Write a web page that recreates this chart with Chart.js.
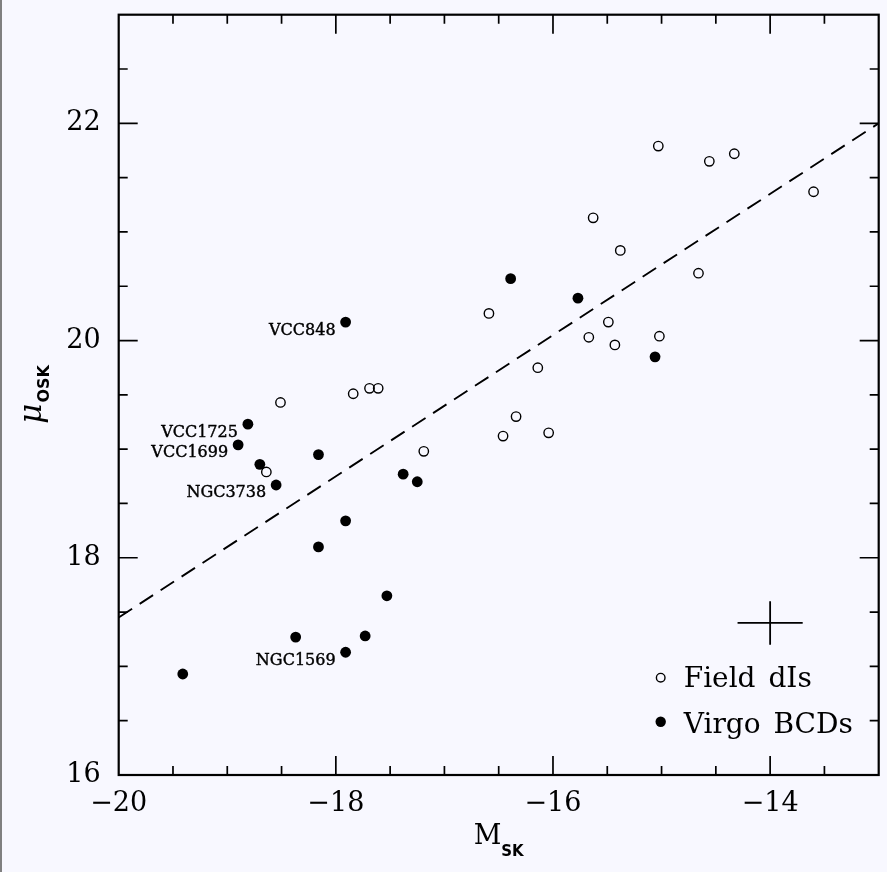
<!DOCTYPE html>
<html>
<head>
<meta charset="utf-8">
<script src="https://cdn.jsdelivr.net/npm/chart.js@4.4.1/dist/chart.umd.min.js"></script>
<style>
html,body{margin:0;padding:0;background:#f8f8ff;}
#c{display:block;}
</style>
</head>
<body>
<canvas id="c" width="887" height="872"></canvas>
<script>
// ---- data ----
const fieldX = [-18.51,-18.64,-17.84,-17.69,-17.61,-17.19,-16.59,-16.46,-16.34,-16.14,-16.04,-15.67,-15.63,-15.49,-15.43,-15.38,-15.03,-15.02,-14.66,-14.56,-14.33,-13.60];
const fieldY = [19.43,18.79,19.51,19.56,19.56,18.98,20.25,19.12,19.30,19.75,19.15,20.03,21.13,20.17,19.96,20.83,21.79,20.04,20.62,21.65,21.72,21.37];
const bcdX = [-17.91,-18.81,-18.90,-18.70,-18.55,-18.16,-17.38,-17.25,-17.91,-18.16,-17.53,-18.37,-17.73,-17.91,-19.41,-16.39,-15.77,-15.06];
const bcdY = [20.17,19.23,19.04,18.86,18.67,18.95,18.77,18.70,18.34,18.10,17.65,17.27,17.28,17.13,16.93,20.57,20.39,19.85];
const labelNames = ['VCC848','VCC1725','VCC1699','NGC3738','NGC1569'];
const labelIndex = [0,1,2,4,13];
const fitX = [-20,-13];
const fitY = [17.45,22.0];
const errCenterX = -14.0, errCenterY = 17.4, errHalfX = 0.3, errHalfY = 0.2;
const xTicks = [-20,-18,-16,-14];
const yTicks = [16,18,20,22];
const seriesNames = ['Field dIs','Virgo BCDs'];

const toPts = (xs, ys) => xs.map((x, i) => ({x, y: ys[i]}));

const serif = '"DejaVu Serif", serif';
const sans = '"DejaVu Sans", sans-serif';

const decor = {
  id: 'decor',
  beforeDraw(chart) {
    const ctx = chart.ctx;
    ctx.save();
    ctx.fillStyle = '#f8f8ff';
    ctx.fillRect(0, 0, chart.width, chart.height);
    ctx.fillStyle = '#808080';
    ctx.fillRect(0, 0, 2, chart.height);
    ctx.restore();
  },
  afterDatasetsDraw(chart) {
    const ctx = chart.ctx;
    const a = chart.chartArea;
    const xs = chart.scales.x, ys = chart.scales.y;
    ctx.save();
    // frame
    ctx.strokeStyle = '#000';
    ctx.lineWidth = 2.2;
    ctx.strokeRect(a.left, a.top, a.right - a.left, a.bottom - a.top);
    // ticks
    ctx.lineWidth = 1.7;
    ctx.beginPath();
    for (let v = xs.min + 0.5; v < xs.max - 0.01; v += 0.5) {
      const p = xs.getPixelForValue(v);
      const L = Math.abs(v % 2) < 1e-6 ? 19 : 9;
      ctx.moveTo(p, a.bottom); ctx.lineTo(p, a.bottom - L);
      ctx.moveTo(p, a.top); ctx.lineTo(p, a.top + L);
    }
    for (let v = ys.min + 0.5; v < ys.max - 0.01; v += 0.5) {
      const p = ys.getPixelForValue(v);
      const L = Math.abs(v % 2) < 1e-6 ? 19 : 9;
      ctx.moveTo(a.left, p); ctx.lineTo(a.left + L, p);
      ctx.moveTo(a.right, p); ctx.lineTo(a.right - L, p);
    }
    ctx.stroke();

    // point labels
    ctx.fillStyle = '#000';
    ctx.strokeStyle = '#000';
    ctx.lineWidth = 0.4;
    ctx.font = '16px ' + serif;
    ctx.textAlign = 'right';
    ctx.textBaseline = 'alphabetic';
    labelNames.forEach((n, i) => {
      const k = labelIndex[i];
      const px = xs.getPixelForValue(bcdX[k]);
      const py = ys.getPixelForValue(bcdY[k]);
      ctx.fillText(n, px - 10, py + 12.5);
      ctx.strokeText(n, px - 10, py + 12.5);
    });

    // legend
    const lx = a.left + 542, ly1 = a.top + 663, ly2 = a.top + 707;
    ctx.lineWidth = 1.4;
    ctx.beginPath(); ctx.arc(lx, ly1, 4.3, 0, Math.PI * 2); ctx.stroke();
    ctx.beginPath(); ctx.arc(lx, ly2, 5.2, 0, Math.PI * 2); ctx.fill();
    ctx.font = '28px ' + serif;
    ctx.textAlign = 'left';
    try { ctx.wordSpacing = '4px'; } catch (e) {}
    ctx.fillText(seriesNames[0], lx + 23, ly1 + 9.5);
    ctx.fillText(seriesNames[1], lx + 23, ly2 + 11);
    try { ctx.wordSpacing = '0px'; } catch (e) {}

    // x title
    const cx = (a.left + a.right) / 2;
    ctx.font = '27px ' + serif;
    const wM = ctx.measureText('M').width;
    ctx.font = 'bold 15px ' + sans;
    const wS = ctx.measureText('SK').width;
    const x0 = cx - (wM + wS) / 2;
    ctx.font = '27px ' + serif;
    ctx.fillText('M', x0, 843.5);
    ctx.font = 'bold 15px ' + sans;
    ctx.fillText('SK', x0 + wM, 856);

    // y title
    ctx.translate(41, (a.top + a.bottom) / 2);
    ctx.rotate(-Math.PI / 2);
    ctx.font = 'italic 31px ' + serif;
    const wm = ctx.measureText('μ').width;
    ctx.font = 'bold 16px ' + sans;
    const wo = ctx.measureText('OSK').width;
    const y0 = -(wm + wo) / 2;
    ctx.font = 'italic 31px ' + serif;
    ctx.fillText('μ', y0, 0);
    ctx.font = 'bold 16px ' + sans;
    ctx.fillText('OSK', y0 + wm + 1, 8);
    ctx.restore();
  }
};

new Chart(document.getElementById('c'), {
  type: 'scatter',
  data: {
    datasets: [
      {
        label: seriesNames[0],
        data: toPts(fieldX, fieldY),
        pointRadius: 4.7,
        pointBorderWidth: 1.4,
        borderColor: '#000',
        backgroundColor: 'rgba(0,0,0,0)',
        pointBackgroundColor: 'rgba(0,0,0,0)',
        pointHoverRadius: 4.7
      },
      {
        label: seriesNames[1],
        data: toPts(bcdX, bcdY),
        pointRadius: 5.4,
        pointBorderWidth: 0,
        borderColor: '#000',
        backgroundColor: '#000',
        pointBackgroundColor: '#000'
      },
      {
        label: 'fit',
        type: 'line',
        data: toPts(fitX, fitY),
        borderColor: '#000',
        borderWidth: 1.9,
        borderDash: [16, 9],
        pointRadius: 0,
        fill: false
      },
      {
        label: 'errx',
        type: 'line',
        data: [{x: errCenterX - errHalfX, y: errCenterY}, {x: errCenterX + errHalfX, y: errCenterY}],
        borderColor: '#000',
        borderWidth: 1.8,
        pointRadius: 0,
        fill: false
      },
      {
        label: 'erry',
        type: 'line',
        data: [{x: errCenterX, y: errCenterY - errHalfY}, {x: errCenterX, y: errCenterY + errHalfY}],
        borderColor: '#000',
        borderWidth: 1.8,
        pointRadius: 0,
        fill: false
      }
    ]
  },
  options: {
    responsive: false,
    animation: false,
    devicePixelRatio: 1,
    layout: { padding: { left: 0, top: 14.7, right: 8.3, bottom: 0 } },
    plugins: { legend: { display: false }, tooltip: { enabled: false } },
    scales: {
      x: {
        type: 'linear', min: -20, max: -13,
        grid: { display: false, drawTicks: false },
        border: { display: false },
        afterBuildTicks: s => { s.ticks = xTicks.map(v => ({value: v})); },
        afterFit: s => { s.height = 97; s.paddingLeft = 0; s.paddingRight = 0; },
        ticks: {
          color: '#000', padding: 13,
          font: { family: 'DejaVu Serif', size: 27 },
          callback: v => String(v).replace('-', '\u2212')
        }
      },
      y: {
        type: 'linear', min: 16, max: 23,
        grid: { display: false, drawTicks: false },
        border: { display: false },
        afterBuildTicks: s => { s.ticks = yTicks.map(v => ({value: v})); },
        afterFit: s => { s.width = 118.7; s.paddingTop = 0; s.paddingBottom = 0; },
        ticks: {
          color: '#000', padding: 18,
          font: { family: 'DejaVu Serif', size: 27 }
        }
      }
    }
  },
  plugins: [decor]
});
</script>
</body>
</html>
